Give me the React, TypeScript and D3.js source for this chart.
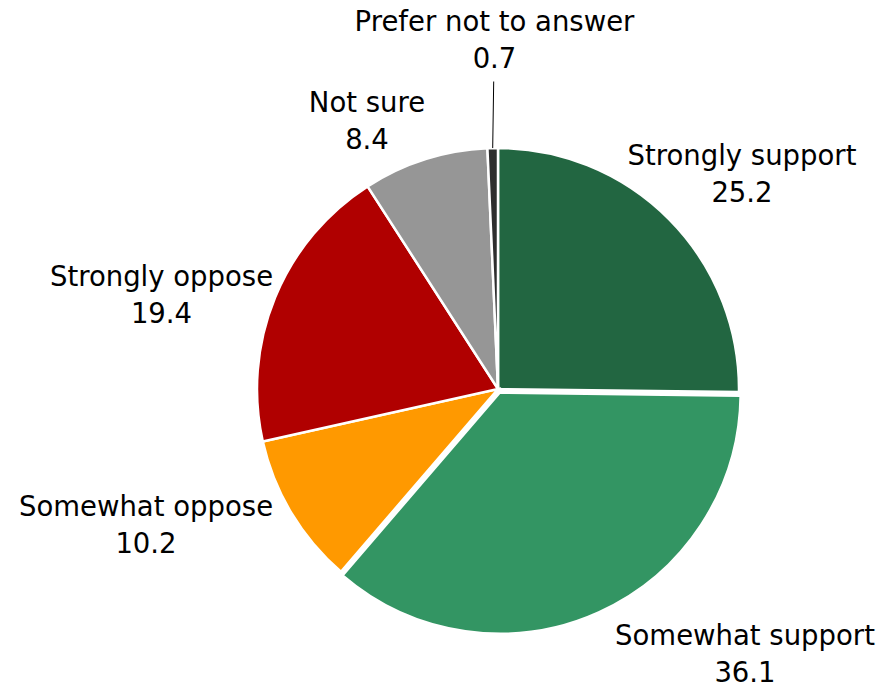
import React from "react";
import * as d3 from "d3";

const categories = [
  "Strongly support",
  "Somewhat support",
  "Somewhat oppose",
  "Strongly oppose",
  "Not sure",
  "Prefer not to answer",
];
const values = [25.2, 36.1, 10.2, 19.4, 8.4, 0.7];
const colors = ["#226641", "#339563", "#FF9900", "#B00000", "#969696", "#2E2E2E"];
const exploded = [0, 4, 0, 0, 0, 0];

// layout of label blocks: [centerX, first baseline]
const labelLayout: [number, number][] = [
  [742, 165],
  [745, 645],
  [146, 516],
  [161.5, 286],
  [367, 112],
  [494.5, 31],
];

const W = 884;
const H = 686;
const CX = 498;
const CY = 389;
const R = 241;
const LINE_GAP = 36.5;

export default function App() {
  const pie = d3
    .pie<number>()
    .sort(null)
    .value((d) => d);
  const arcs = pie(values);
  const arc = d3.arc<d3.PieArcDatum<number>>().innerRadius(0).outerRadius(R);

  const lastArc = arcs[5];
  const midA = (lastArc.startAngle + lastArc.endAngle) / 2;
  const leaderEnd = [CX + R * Math.sin(midA), CY - R * Math.cos(midA)];

  return (
    <svg
      width={W}
      height={H}
      style={{ position: "absolute", left: 0, top: 0, background: "#fff" }}
      fontFamily="'DejaVu Sans', Verdana, sans-serif"
    >
      <g transform={`translate(${CX},${CY})`}>
        {arcs.map((a, i) => {
          const m = (a.startAngle + a.endAngle) / 2;
          const dx = exploded[i] * Math.sin(m);
          const dy = -exploded[i] * Math.cos(m);
          return (
            <path
              key={i}
              d={arc(a) || ""}
              transform={`translate(${dx},${dy})`}
              fill={colors[i]}
              stroke="#fff"
              strokeWidth={2.5}
              strokeLinejoin="miter"
            />
          );
        })}
      </g>
      <line
        x1={labelLayout[5][0] - 0.8}
        y1={labelLayout[5][1] + LINE_GAP + 14}
        x2={leaderEnd[0]}
        y2={leaderEnd[1]}
        stroke="#000"
        strokeWidth={1}
      />
      {categories.map((c, i) => (
        <text
          key={c}
          x={labelLayout[i][0]}
          y={labelLayout[i][1]}
          textAnchor="middle"
          fontSize={27.5}
          fill="#000"
        >
          <tspan x={labelLayout[i][0]} y={labelLayout[i][1]}>
            {c}
          </tspan>
          <tspan x={labelLayout[i][0]} y={labelLayout[i][1] + LINE_GAP}>
            {values[i].toFixed(1)}
          </tspan>
        </text>
      ))}
    </svg>
  );
}
